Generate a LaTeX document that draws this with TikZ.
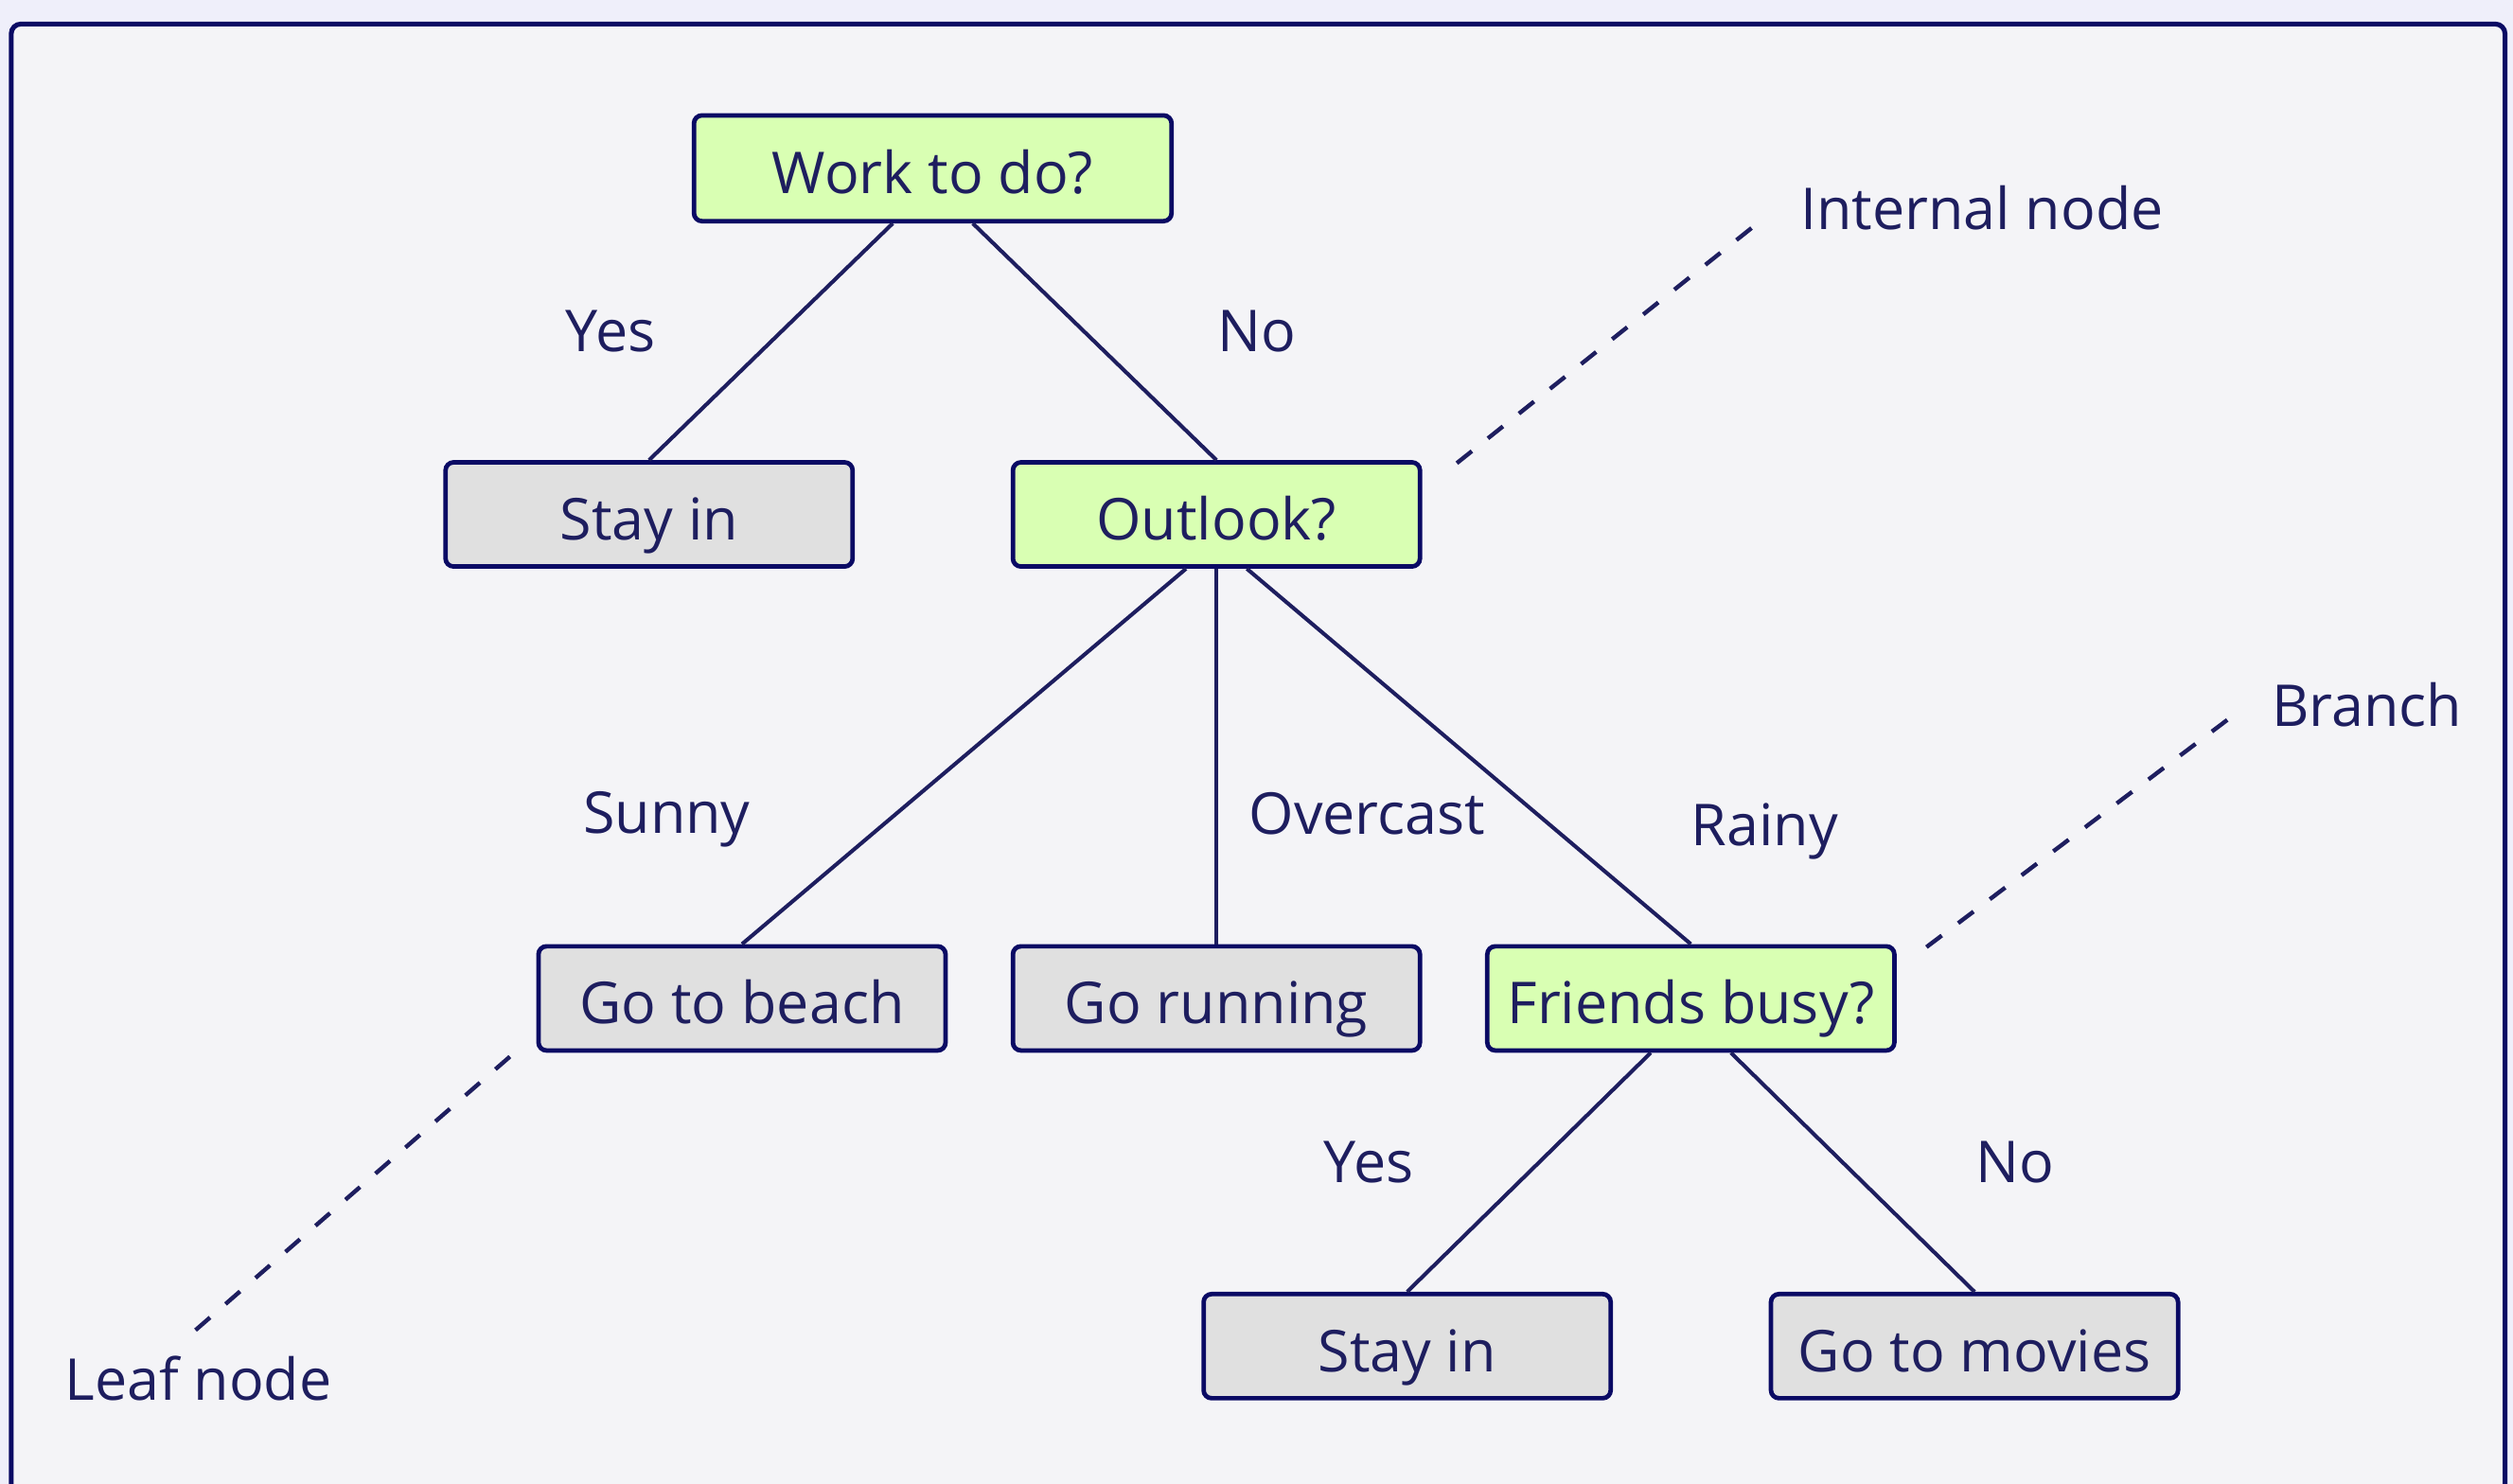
\documentclass[tikz,border=0pt]{standalone}
\usepackage{fontspec}
\setmainfont{Open Sans}
\usetikzlibrary{positioning}

\definecolor{navy}{HTML}{0A0A64}
\definecolor{ink}{HTML}{1E1E5F}
\definecolor{qgreen}{HTML}{D9FFB3}
\definecolor{leafgray}{HTML}{E0E0E0}
\definecolor{panel}{HTML}{F4F4F7}
\definecolor{outerbg}{HTML}{EFEFFA}

\begin{document}
\begin{tikzpicture}[x=0.5pt,y=-0.5pt,
  every node/.style={font=\fontsize{18}{22}\selectfont,text=ink},
  box/.style={draw=navy,line width=1.4pt,rounded corners=2.5pt,minimum width=127pt,minimum height=32.5pt,inner sep=0pt,text height=20pt,text depth=4pt},
  question/.style={box,fill=qgreen},
  leaf/.style={box,fill=leafgray},
  branch/.style={draw=ink,line width=1.2pt},
  callout/.style={draw=ink,line width=1.3pt,dash pattern=on 6pt off 6.4pt},
  tag/.style={inner sep=0pt}]
  \useasboundingbox[fill=outerbg] (0,0) rectangle (1568,926);
  \draw[navy,line width=1.5pt,fill=panel,rounded corners=3pt] (7,15) rectangle (1563,980);

  \node[question,minimum width=149pt,minimum height=33pt] (work) at (582,105) {Work to do?};
  \node[leaf] (stay) at (405,321) {Stay in};
  \node[question] (outlook) [right of=stay, node distance=177pt] {Outlook?};
  \node[leaf] (running) [below of=outlook, node distance=151pt] {Go running};
  \node[leaf] (beach) [left of=running, node distance=148pt] {Go to beach};
  \node[question] (friends) [right of=running, node distance=148pt] {Friends busy?};
  \node[leaf] (stayout) at (878,840) {Stay in};
  \node[leaf] (movies) [right of=stayout, node distance=177pt] {Go to movies};

  \draw[branch] ([xshift=-12.5pt]work.south) -- (stay.north);
  \draw[branch] ([xshift=12.5pt]work.south) -- (outlook.north);
  \draw[branch] ([xshift=-9.5pt]outlook.south) -- (beach.north);
  \draw[branch] (outlook.south) -- (running.north);
  \draw[branch] ([xshift=9.5pt]outlook.south) -- (friends.north);
  \draw[branch] ([xshift=-12.5pt]friends.south) -- (stayout.north);
  \draw[branch] ([xshift=12.5pt]friends.south) -- (movies.north);

  \node[tag] (yesw) at (381,207) {Yes};
  \node[tag] (now) at (784,207) {No};
  \node[tag] (sunny) at (416,511) {Sunny};
  \node[tag] (overcast) at (853,508) {Overcast};
  \node[tag] (rainy) at (1101,519) {Rainy};
  \node[tag] (yesf) at (854,725) {Yes};
  \node[tag] (nof) at (1257,725) {No};

  \node[tag,anchor=west] (internal) at (1123,130) {Internal node};
  \node[tag,anchor=west] (branchtag) at (1417,440) {Branch};
  \node[tag,anchor=west] (leaftag) at (40,860) {Leaf node};

  \coordinate (intA) at (909,289);
  \coordinate (intB) at (1097,139);
  \coordinate (brA) at (1202,591);
  \coordinate (brB) at (1394,446);
  \coordinate (lfA) at (122,830);
  \coordinate (lfB) at (322,656);
  \draw[callout] (intA) -- (intB);
  \draw[callout] (brA) -- (brB);
  \draw[callout] (lfA) -- (lfB);
\end{tikzpicture}
\end{document}
